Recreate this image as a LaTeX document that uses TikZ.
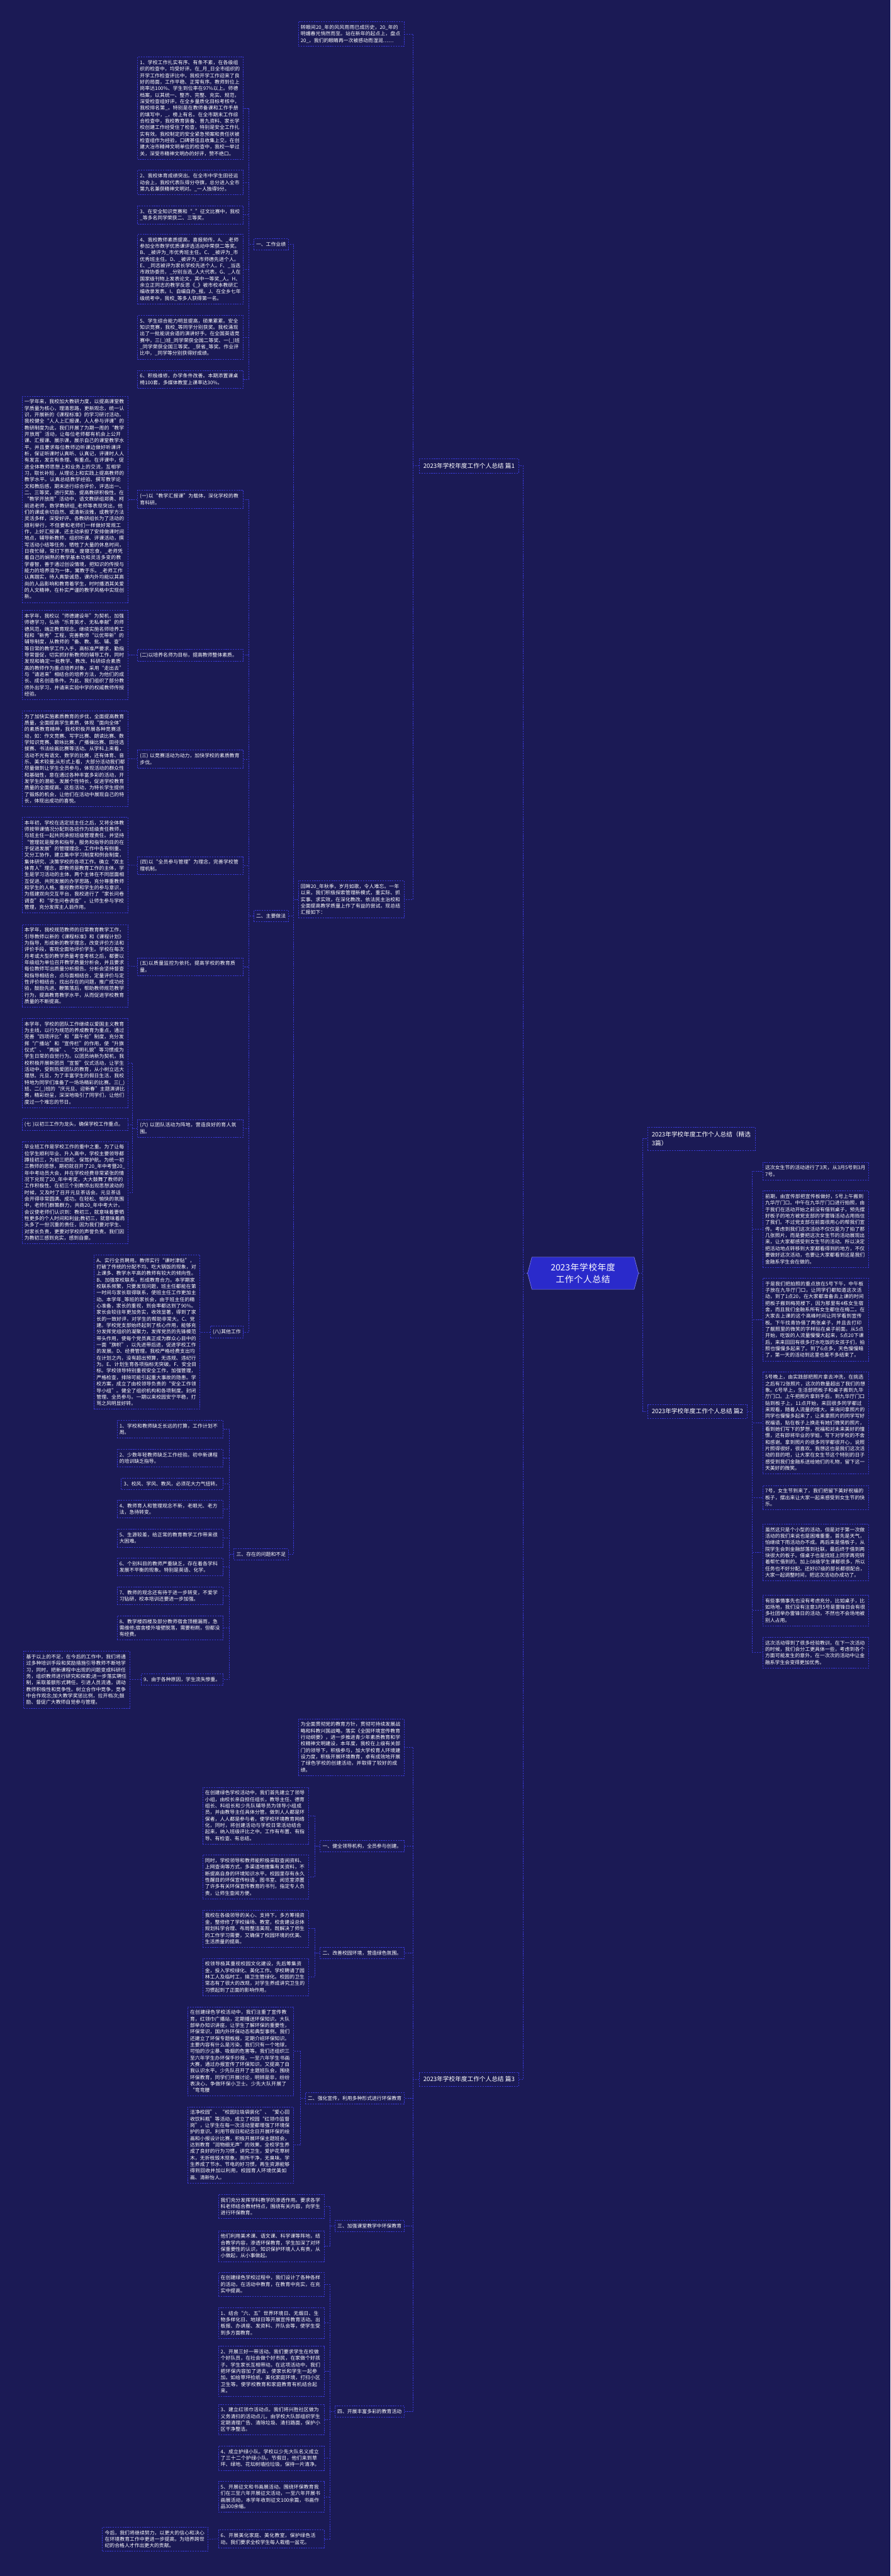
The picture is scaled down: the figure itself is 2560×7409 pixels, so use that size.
\documentclass[tikz,border=0pt]{standalone}
\usepackage{fontspec}
\newfontfamily\cjk{Noto Sans CJK SC}
\usetikzlibrary{shapes.symbols}
\XeTeXlinebreaklocale "zh"
\XeTeXlinebreakskip = 0pt plus 1pt
\definecolor{bgc}{HTML}{1B1A55}
\definecolor{linec}{HTML}{3A3AD6}
\definecolor{rootc}{HTML}{2A2ACB}
\tikzset{
  link/.style={draw=linec, line width=1.2pt, dash pattern=on 4pt off 3pt},
  box/.style={link, text=white, font=\cjk\fontsize{14.2}{18.7}\selectfont, inner xsep=7pt, inner ysep=9.5pt, align=left},
  para/.style={box, text width=290pt},
  head/.style={link, text=white, font=\cjk\fontsize{17.5}{25.4}\selectfont, inner xsep=12pt, inner ysep=12pt, align=left},
  rootnode/.style={shape=signal, signal to=west and east, signal pointer angle=150, fill=rootc, draw=linec!60!white, line width=1pt, text=white, font=\cjk\fontsize{25}{33.5}\selectfont, text width=282pt, align=center, inner xsep=6pt, inner ysep=18pt},
}
\begin{document}
\begin{tikzpicture}[x=1pt, y=-1pt]
\fill[bgc] (0,0) rectangle (2560,7409);
\useasboundingbox (0,0) rectangle (2560,7409);

\node[rootnode] (root) at (1676,3662) {2023年学校年度工作个人总结};

% right side
\node[head, anchor=west, text width=286pt] (p0) at (1861,3275) {2023年学校年度工作个人总结（精选3篇）};
\node[head, anchor=west] (p2) at (1861,4059) {2023年学校年度工作个人总结 篇2};
\node[para, anchor=west] (p2a) at (2192,3368) {这次女生节的活动进行了3天，从3月5号到3月7号。};
\node[para, anchor=west] (p2b) at (2192,3535) {前期，由宣传部把宣传板做好，5号上午搬到九华厅门口。中午在九华厅门口进行拍照，由于我们在活动开始之前没有借到桌子，预先摆好板子的地方被党支部的学雷锋活动占用挡住了我们。不过党支部在前面很用心的帮我们宣传。考虑到我们这次活动不仅仅是为了拍了那几张照片，而是要把这次女生节的活动展现出来，让大家都感受到女生节的活动。所以决定把活动地点转移到大家都看得到的地方，不仅要做好这次活动，也要让大家都看到这是我们金融系学生会在做的。};
\node[para, anchor=west] (p2c) at (2192,3795) {于是我们把拍照的重点放在5号下午，中午板子放在九华厅门口，让同学们都知道这次活动，到了1点20，在大家都准备去上课的时间把板子搬到梅苑楼下，因为那里有4栋女生宿舍，而且我们金融系所有女生都住在梅二。在大家去上课的这个高峰时间让同学看到宣传板。下午找青协借了两张桌子，并且去打印了靓照里的微笑的字样贴在桌子前面。从5点开始，吃饭的人流量慢慢大起来，5点20下课后，来来回回有很多打水吃饭的女孩子们，拍照也慢慢多起来了。到了6点多，天色慢慢暗了，第一天的活动到这里也差不多结束了。};
\node[para, anchor=west] (p2d) at (2192,4092) {5号晚上，由实践部把照片拿去冲洗，在挑选之后有72张照片，这次的数量超出了我们的想象。6号早上，生活部把板子和桌子搬到九华厅门口。上午把照片拿到手后，到九华厅门口贴到板子上，11点开始，来回很多同学都过来观看，随着人流量的增大，来询问拿照片的同学也慢慢多起来了，让来拿照片的同学写好祝福语，贴在板子上换走有她们微笑的照片，看到她们写下的梦想，祝福和对未来美好的憧憬，还有即将毕业的学姐，写下对学校的不舍和感谢。拿到照片的很多同学都很开心，说照片照得很好，很喜欢。我想这也是我们这次活动的目的吧，让大家在女生节这个特别的日子感受到我们金融系送给她们的礼物，留下这一天美好的微笑。};
\node[para, anchor=west] (p2e) at (2192,4307) {7号，女生节到来了，我们把留下美好祝福的板子，摆出来让大家一起来感受到女生节的快乐。};
\node[para, anchor=west] (p2f) at (2192,4465) {虽然这只是个小型的活动，但是对于第一次做活动的我们来说也是困难重重，首先是天气，怕继续下雨活动办不成。再后来是借板子，从院学生会到金融部落到社联，最后终于借到两块很大的板子。借桌子也是找班上同学再兜转着帮忙借到的。加上08级学生课都很多，所以任务也不好分配。还好07级的部长都很配合，大家一起调整时间，把这次活动办成功了。};
\node[para, anchor=west] (p2g) at (2192,4632) {有些事情事先也没有考虑充分，比如桌子，比如场地，我们没有注意3月5号是雷锋日会有很多社团举办雷锋日的活动，不然也不会场地被别人占用。};
\node[para, anchor=west] (p2h) at (2192,4753) {这次活动得到了很多经验教训，在下一次活动的时候，我们会分工更具体一些，考虑到各个方面可能发生的意外。在一次次的活动中让金融系学生会变得更加优秀。};

% left side, 篇1
\node[head, anchor=east] (p1) at (1492,1340) {2023年学校年度工作个人总结 篇1};
\node[para, anchor=east] (p1a) at (1162,98) {转眼间20\_年的风风雨雨已成历史，20\_年的明媚春光悄然而至。站在新年的起点上，盘点20\_，我们的眼睛再一次被感动而湿润……};
\node[para, anchor=east] (p1b) at (1162,2587) {回眸20\_年秋季，岁月如歌，令人难忘。一年以来，我们积极探索管理新模式，重实际、抓实事、求实效，在深化教改、依法民主治校和全面提高教学质量上作了有益的尝试。现总结汇报如下：};

\node[box, anchor=east] (g1) at (829,702) {一、工作业绩};
\node[para, anchor=east] (g1a) at (700,311) {1、学校工作扎实有序、有条不紊，在各级组织的检查中，均受好评。在\_月\_日全市组织的开学工作检查评比中，我校开学工作迎来了良好的局面，工作平稳、正常有序。教师到位上岗率达100\%、学生到位率在97\%以上。师德档案，以其统一、整齐、完整、充实、规范，深受检查组好评。在全乡量质化目标考核中，我校排名第\_。特别是在教师备课和工作手册的填写中，\_，榜上有名。在全市期末工作综合检查中，我校教育装备、普九资料、家长学校创建工作经受住了检查，特别是安全工作扎实有效。我校制定的安全紧急预案和责任状被检查组作为经验，口碑甚佳且收集上交。在创建大冶市精神文明单位的检查中，我校一举过关，深受市精神文明办的好评，赞不绝口。};
\node[para, anchor=east] (g1b) at (700,525) {2、我校体育成绩突出。在全市中学生田径运动会上，我校代表队得分夺旗，总分进入全市第九名兼获精神文明对。\_一人独得9分。};
\node[para, anchor=east] (g1c) at (700,618) {3、在安全知识竞赛和“\_”征文比赛中，我校\_等多名同学荣获二、三等奖。};
\node[para, anchor=east] (g1d) at (700,774) {4、我校教师素质提高，喜报频传。A、\_老师参加全市数学优质课评选活动中荣获二等奖。B、\_被评为\_市优秀班主任。C、\_被评为\_市优秀班主任。D、\_被评为\_市师德先进个人。E、\_同志被评为家长学校先进个人。F、\_当选市政协委员，\_分别当选\_人大代表。G、\_人在国家级刊物上发表论文，其中一等奖\_人。H、余立正同志的教学反思《\_》被市校本教研汇编收录发表。I、自编自办\_报。J、在全乡七年级统考中，我校\_等多人获得第一名。};
\node[para, anchor=east] (g1e) at (700,970) {5、学生综合能力明显提高，硕果累累。安全知识竞赛，我校\_等同学分别获奖。我校涌现出了一批能说会道的演讲好手。在全国英语竞赛中，三(\_)班\_同学荣获全国二等奖、一(\_)班\_同学荣获全国三等奖。\_获省\_等奖。作业评比中，\_同学等分别获得好成绩。};
\node[para, anchor=east] (g1f) at (700,1091) {6、积极维修，办学条件改善。本期添置课桌椅100套，多媒体教室上课率达30\%。};

\node[box, anchor=east] (g2) at (829,2634) {二、主要做法};
\node[para, anchor=east] (g2a) at (700,1436) {(一)以“教学汇报课”为载体，深化学校的教育科研。};
\node[para, anchor=east] (g2b) at (700,1884) {(二)以培养名师为目标，提高教师整体素质。};
\node[para, anchor=east] (g2c) at (700,2183) {(三) 以竞赛活动为动力，加快学校的素质教育步伐。};
\node[para, anchor=east] (g2d) at (700,2489) {(四)以“全员参与管理”为理念，完善学校管理机制。};
\node[para, anchor=east] (g2e) at (700,2780) {(五)以质量监控为依托，提高学校的教育质量。};
\node[para, anchor=east] (g2f) at (700,3245) {(六) 以团队活动为阵地，营造良好的育人氛围。};
\node[box, anchor=east] (g2g) at (700,3831) {(八)其他工作};

\node[para, anchor=east] (g2a1) at (368,1436) {一学年来，我校加大教研力度，以提高课堂教学质量为核心，理清思路，更新观念，统一认识，开展新的《课程标准》的学习研讨活动，我校健全“人人上汇报课，人人参与评课”的教研制度为此，我们开展了为期一周的“教学开放周”活动，让每位老师都有机会上公开课、汇报课、展示课，展示自己的课堂教学水平。并且要求每位教师边听课边做好听课评析，保证听课时认真听、认真记，评课时人人有发言，发言有条理、有重点。在评课中，促进全体教师思想上和业务上的交流，互相学习，取长补短，从理论上和实践上提高教师的教学水平。认真总结教学经验、撰写教学论文和教后感，期末进行综合评价，评选出一、二、三等奖，进行奖励，提高教研积极性。在“教学开放周”活动中，语文教研组郑勇、柯前进老师，数学教研组\_老师等表现突出，他们的课或亲切自然、或清新淡雅，或教学方法灵活多样，深受好评。各教研组长为了活动的顺利举行，不但要和老师们一样做好常规工作，上好汇报课，还主动承担了安排做课时间地点，辅导新教师，组织听课、评课活动，撰写活动小结等任务，牺牲了大量的休息时间，日夜忙碌，常灯下熬夜、废寝忘食。\_老师凭着自己的娴熟的教学基本功和灵活多变的教学睿智，善于通过创设情境，把知识的传授与能力的培养溶为一体，寓教于乐。\_老师工作认真踏实，待人真挚诚恳，课内外均能以其高尚的人品影响和教育着学生，时时播洒其关爱的人文精神，在朴实严谨的教学风格中实现创新。};
\node[para, anchor=east] (g2b1) at (368,1884) {本学年，我校以“师德建设年”为契机，加强师德学习，弘扬“乐育英才、无私奉献”的师德风范，端正教育观念。继续实施名师培养工程和“新秀”工程，完善教师“以优带新”的辅导制度，从教师的“备、教、批、辅、查”等日常的教学工作入手，高标准严要求，勤指导常督促，切实抓好新教师的辅导工作，同时发现和确定一批教学、教改、科研综合素质高的教师作为重点培养对象，采用“走出去”与“请进来”相结合的培养方法，为他们的成长、成名创造条件。为此，我们组织了部分教师外出学习，并请来实验中学的权威教师传授经验。};
\node[para, anchor=east] (g2c1) at (368,2182) {为了加快实施素质教育的步伐，全面提高教育质量，全面提高学生素质，体现“面向全体”的素质教育精神，我校积极开展各种竞赛活动，如：作文竞赛、写字比赛、朗读比赛、数学知识竞赛、歌咏比赛、广播操比赛、田径选拔赛、书法绘画比赛等活动。从学科上来看，活动不光有语文、数学的比赛，还有体育、音乐、美术较量;从形式上看，大部分活动我们都尽量做到让学生全员参与，体现活动的群众性和基础性，意在通过各种丰富多彩的活动，开发学生的潜能、发展个性特长，促进学校教育质量的全面提高。这些活动，为特长学生提供了锻炼的机会，让他们在活动中展现自己的特长，体现出成功的喜悦。};
\node[para, anchor=east] (g2d1) at (368,2488) {本年初，学校在选定班主任之后，又将全体教师按带课情况分配到各班作为班级责任教师，与班主任一起共同承担班级管理责任。并坚持“管理就是服务和指导，服务和指导的目的在于促进发展”的管理理念，工作中各有侧重、又分工协作，建立集中学习制度和例会制度，集体研究、决策学校的各项工作。确立“双主体育人”理念，即教师是教育工作的主体，学生是学习活动的主体，两个主体在不同层面相互促进、共同发展的办学思路，充分尊重教师和学生的人格，重视教师和学生的参与意识，为搭建双向交互平台，我校进行了“家长问卷调查”和“学生问卷调查”。让师生参与学校管理，充分发挥主人翁作用。};
\node[para, anchor=east] (g2e1) at (368,2778) {本学年，我校规范教师的日常教育教学工作，引导教师以新的《课程标准》和《课程计划》为指导，形成新的教学理念，改变评价方法和评价手段，客观全面地评价学生。学校在每次月考或大型的教学质量考查考核之后，都要以年级组为单位召开教学质量分析会，并且要求每位教师写出质量分析报告。分析会坚持督查和指导相结合，点与面相结合，定量评价与定性评价相结合，找出存在的问题，推广成功经验，鼓励先进、鞭策落后，帮助教师规范教学行为，提高教育教学水平，从而促进学校教育质量的不断提高。};
\node[para, anchor=east] (g2f1) at (368,3057) {本学年，学校的团队工作继续以爱国主义教育为主线，以行为规范的养成教育为重点，通过完善“四项评比”和“晨午检”制度，充分发挥“广播站”和“宣传栏”的作用，使“升旗仪式”、“两操”、“文明礼貌”等习惯成为学生日常的自觉行为。以团员纳新为契机，我校积极开展新团员“宣誓”仪式活动，让学生活动中，受到热爱团队的教育，从小树立远大理想。元旦，为了丰富学生的假日生活，我校特地为同学们准备了一场场精彩的比赛。三(\_)班、二(\_)班的“庆元旦、迎新春”主题演讲比赛，精彩纷呈，深深地吸引了同学们，让他们度过一个难忘的节日。};
\node[para, anchor=east] (g2f2) at (368,3234) {(七 )以初三工作为龙头，确保学校工作重点。};
\node[para, anchor=east] (g2f3) at (368,3430) {毕业班工作是学校工作的重中之重。为了让每位学生顺利毕业、升入高中，学校主要领导都蹲挂初三，为初三把舵、保驾护航。为统一初三教师的思想，期初就召开了20\_年中考暨20\_年中考动员大会，并在学校经费非常紧张的情况下兑现了20\_年中考奖，大大鼓舞了教师的工作积极性。在初三个别教师出现思想波动的时候，又及时了召开元旦茶话会。元旦茶话会开得非常圆满、成功。在轻松、愉快的氛围中，老师们群策群力，共商20\_年中考大计。会议使老师们认识到：教初三，就意味着要牺牲更多的个人时间和利益;教初三，就意味着肩头多了一份沉重的责任，因为我们要对学生、对家长负责，更要对学校的声誉负责。我们因为教初三感到充实，感到自豪。};
\node[para, anchor=east] (g2g1) at (575,3831) {A、实行全员聘用。教师实行“课时津贴”，打破了传统的分配不均、吃大锅饭的现象，对上课多、教学水平高的教师有较大的倾向性。B、加强家校联系，形成教育合力。本学期家校联系频繁，只要发现问题，班主任都能在第一时间与家长取得联系，使班主任工作更加主动。本学年\_等班的家长会，由于班主任的精心准备，家长的重视，到会率都达到了90\%。家长会较往年更加务实，收效显著，得到了家长的一致好评，对学生的帮助非常大。C、党建。学校党支部始终起到了核心作用，能够充分发挥党组织的凝聚力，发挥党员的先锋模范带头作用，使每个党员真正成为群众心目中的一面“旗帜”，以先进带后进，促进学校工作的发展。D、经费管理。我校严格经费支出均在计划之内，没有超出预算，无违规、违纪行为。E、计划生育各项指标无突破。F、安全目标。学校领导特别重视安全工作，加强管理，严格检查，排除可能引起重大事故的隐患。学校方案，成立了由校领导负责的“安全工作领导小组”。健全了组织机构和各项制度。封闭管理、全员参与。一期以来校园安宁平稳，打骂之风明显好转。};

\node[box, anchor=east] (g3) at (829,4470) {三、存在的问题和不足};
\node[para, anchor=east] (g3a) at (641,4110) {1、学校和教师缺乏长远的打算，工作计划不周。};
\node[para, anchor=east] (g3b) at (641,4194) {2、少数年轻教师缺乏工作经验。初中新课程的培训缺乏指导。};
\node[box, anchor=east] (g3c) at (641,4268) {3、校风、学风、教风，必须花大力气扭转。};
\node[para, anchor=east] (g3d) at (641,4340) {4、教师育人和管理观念不新，老眼光、老方法，急待转变。};
\node[para, anchor=east] (g3e) at (641,4424) {5、生源较差，给正常的教育教学工作带来很大困难。};
\node[para, anchor=east] (g3f) at (641,4507) {6、个别科目的教师严重缺乏，存在着各学科发展不平衡的现象。特别是英语、化学。};
\node[para, anchor=east] (g3g) at (641,4590) {7、教师的观念还有待于进一步转变，不爱学习钻研，校本培训还要进一步加强。};
\node[para, anchor=east] (g3h) at (641,4682) {8、教学楼四楼及部分教师宿舍顶棚漏雨，急需维修;宿舍楼外墙壁脱落，需要粉刷，但都没有经费。};
\node[box, anchor=east] (g3i) at (641,4831) {9、由于各种原因，学生流失惨重。};
\node[para, anchor=east] (g3i1) at (373,4831) {基于以上的不足，在今后的工作中，我们将通过多种培训手段和奖励措施引导教师不断地学习，同时，把新课程中出现的问题变成科研任务，组织教师进行研究和探索;进一步落实聘任制，采取差额形式聘任。引进人员流通，调动教师积极性和竞争性。树立合作中竞争，竞争中合作观念;加大教学奖惩比例，拉开档次;鼓励、督促广大教师自觉参与管理。};

% left side, 篇3
\node[head, anchor=east] (p3) at (1492,5980) {2023年学校年度工作个人总结 篇3};
\node[para, anchor=east] (p3a) at (1162,5025) {为全面贯彻党的教育方针，贯彻可持续发展战略和科教兴国战略，落实《全国环境宣传教育行动纲要》，进一步推进青少年素质教育和学校精神文明建设，本年度，我校在上级有关部门的领导下，积极参与，加大学校育人环境建设力度，积极开展环境教育，卓有成效地开展了绿色学校的创建活动，并取得了较好的成绩。};
\node[box, anchor=east] (p3b) at (1162,5310) {一、健全领导机构，全员参与创建。};
\node[box, anchor=east] (p3c) at (1162,5617) {二、改善校园环境，营造绿色氛围。};
\node[box, anchor=east] (p3d) at (1162,6035) {二、强化宣传，利用多种形式进行环保教育};
\node[box, anchor=east] (p3e) at (1162,6402) {三、加强课堂教学中环保教育};
\node[box, anchor=east] (p3f) at (1162,6936) {四、开展丰富多彩的教育活动};

\node[para, anchor=east] (p3b1) at (887,5222) {在创建绿色学校活动中，我们首先建立了领导小组，由校长亲自担任组长，教导主任、德育组长、科组长和少先队辅导员为领导小组成员，并由教导主任具体分管。做到人人都是环保者，人人都是参与者，使学校环境教育网络化，同时，将创建活动与学校日常活动结合起来，纳入班级评比之中。工作有布置、有指导、有检查、有总结。};
\node[para, anchor=east] (p3b2) at (887,5398) {同时，学校领导和教师能积极采取查阅资料、上网查询等方式，多渠道地搜集有关资料，不断提高自身的环境知识水平。校园里存有永久性醒目的环保宣传标语，图书室、阅览室添置了许多有关环保宣传教育的书刊，指定专人负责，让师生查阅方便。};
\node[para, anchor=east] (p3c1) at (887,5547) {我校在各级领导的关心、支持下，多方筹措资金，整修修了学校操场、教室，校舍建设总体规划科学合理、布局整洁美观，既解决了师生的工作学习需要，又确保了校园环境的优美、生活质量的提高。};
\node[para, anchor=east] (p3c2) at (887,5686) {校领导极其重视校园文化建设，先后筹集资金，投入学校绿化、美化工作。学校聘请了园林工人及临时工，搞卫生管绿化。校园的卫生常态有了很大的改观，对学生养成讲究卫生的习惯起到了正面的影响作用。};
\node[para, anchor=east] (p3d1) at (844,5900) {在创建绿色学校活动中，我们注重了宣传教育，红领巾广播站，定期播送环保知识。大队部举办知识讲座，让学生了解环保的重要性，环保常识，国内外环保动态和典型事例。我们还建立了环保专题板报，定期介绍环保知识。主要内容有什么是污染，我们只有一个地球，可怕的沙尘暴、吸烟的危害等。我们还组织三至六年学生办环保手抄报，一至六年学生书画大赛，通过办报宣传了环保知识，又提高了自我认识水平。少先队召开了主题班队会，围绕环保教育，同学们开展讨论，明辨是非，纷纷表决心，争做环保小卫士。少先大队开展了“弯弯腰};
\node[para, anchor=east] (p3d2) at (844,6169) {洁净校园”、“校园垃圾袋装化”、“爱心回收饮料瓶”等活动，成立了校园“红领巾监督岗”，让学生在每一次活动里都增强了环境保护的意识。利用节假日和纪念日开展环保的绘画和小报设计比赛，积极开展环保主题班会，达到教育“润物细无声”的效果。全校学生养成了良好的行为习惯，讲究卫生，爱护花草树木，无折枝毁木现象。厕所干净，无臭味。学生养成了节水、节电的好习惯，再生资源能够得到回收并加以利用，校园育人环境优美如画、清新怡人。};
\node[para, anchor=east] (p3e1) at (932,6346) {我们充分发挥学科教学的渗透作用。要求各学科老师结合教材特点，围绕有关内容，向学生进行环保教育。};
\node[para, anchor=east] (p3e2) at (932,6460) {他们利用美术课、语文课、科学课等阵地，结合教学内容，渗透环保教育，学生加深了对环保重要性的认识，知识保护环境人人有责，从小做起，从小事做起。};
\node[para, anchor=east] (p3f1) at (932,6570) {在创建绿色学校过程中，我们设计了各种各样的活动，在活动中教育，在教育中充实，在充实中提高。};
\node[para, anchor=east] (p3f2) at (932,6681) {1、结合“六、五”世界环境日、无烟日、生物多样化日、地球日等开展宣传教育活动。出板报、办讲座、发资料、开队会等，使学生受到多方面教育。};
\node[para, anchor=east] (p3f3) at (932,6820) {2、开展三好一带活动。我们要求学生在校做个好队员，在社会做个好市民，在家做个好孩子。学生家长互相带动。在这项活动中，我们把环保内容加了进去，使家长和学生一起参加。如给草坪捡纸，美化家庭环境，打扫小区卫生等。使学校教育和家庭教育有机结合起来。};
\node[para, anchor=east] (p3f4) at (932,6959) {3、建立红领巾活动点。我们将兴胜社区做为义务清扫的活动点儿，由学校大队部组织学生定期清理广告、清除垃圾、清扫路面，保护小区干净整洁。};
\node[para, anchor=east] (p3f5) at (932,7070) {4、成立护绿小队。学校以少先大队名义成立了三十二个护绿小队。节假日，他们来到草坪、绿地、花坛树墙捡垃圾，保持一片清净。};
\node[para, anchor=east] (p3f6) at (932,7181) {5、开展征文和书画展活动。围绕环保教育我们在三至六年开展征文活动，一至六年开展书画展活动，本学年收到征文100余篇，书画作品300余幅。};
\node[para, anchor=east] (p3f7) at (932,7302) {6、开展美化家庭、美化教室，保护绿色活动。我们要求全校学生每人栽植一盆花。};
\node[para, anchor=east] (p3f7a) at (599,7303) {今后，我们将继续努力，以更大的信心和决心在环境教育工作中更进一步提高，为培养跨世纪的合格人才作出更大的贡献。};

% connectors
\draw[link] (root.west) -- ++(-12,0) |- (p1.east);
\draw[link] (root.west) -- ++(-12,0) |- (p3.east);
\draw[link] (root.east) -- ++(12,0) |- (p0.west);
\draw[link] (root.east) -- ++(12,0) |- (p2.west);
\foreach \c in {p2a,p2b,p2c,p2d,p2e,p2f,p2g,p2h}
  \draw[link] (p2.east) -- ++(13,0) |- (\c.west);
\foreach \c in {p1a,p1b}
  \draw[link] (p1.west) -- ++(-17,0) |- (\c.east);
\foreach \c in {g1,g2,g3}
  \draw[link] (p1b.west) -- ++(-13,0) |- (\c.east);
\foreach \c in {g1a,g1b,g1c,g1d,g1e,g1f}
  \draw[link] (g1.west) -- ++(-13,0) |- (\c.east);
\foreach \c in {g2a,g2b,g2c,g2d,g2e,g2f,g2g}
  \draw[link] (g2.west) -- ++(-13,0) |- (\c.east);
\foreach \p in {g2a,g2b,g2c,g2d,g2e}
  \draw[link] (\p.west) -- (\p1.east);
\foreach \c in {g2f1,g2f2,g2f3}
  \draw[link] (g2f.west) -- ++(-14,0) |- (\c.east);
\draw[link] (g2g.west) -- (g2g1.east);
\foreach \c in {g3a,g3b,g3c,g3d,g3e,g3f,g3g,g3h,g3i}
  \draw[link] (g3.west) -- ++(-12,0) |- (\c.east);
\draw[link] (g3i.west) -- (g3i1.east);
\foreach \c in {p3a,p3b,p3c,p3d,p3e,p3f}
  \draw[link] (p3.west) -- ++(-17,0) |- (\c.east);
\foreach \c in {p3b1,p3b2}
  \draw[link] (p3b.west) -- ++(-14,0) |- (\c.east);
\foreach \c in {p3c1,p3c2}
  \draw[link] (p3c.west) -- ++(-14,0) |- (\c.east);
\foreach \c in {p3d1,p3d2}
  \draw[link] (p3d.west) -- ++(-13,0) |- (\c.east);
\foreach \c in {p3e1,p3e2}
  \draw[link] (p3e.west) -- ++(-14,0) |- (\c.east);
\foreach \c in {p3f1,p3f2,p3f3,p3f4,p3f5,p3f6,p3f7}
  \draw[link] (p3f.west) -- ++(-14,0) |- (\c.east);
\draw[link] (p3f7.west) -- (p3f7a.east);
\end{tikzpicture}
\end{document}
